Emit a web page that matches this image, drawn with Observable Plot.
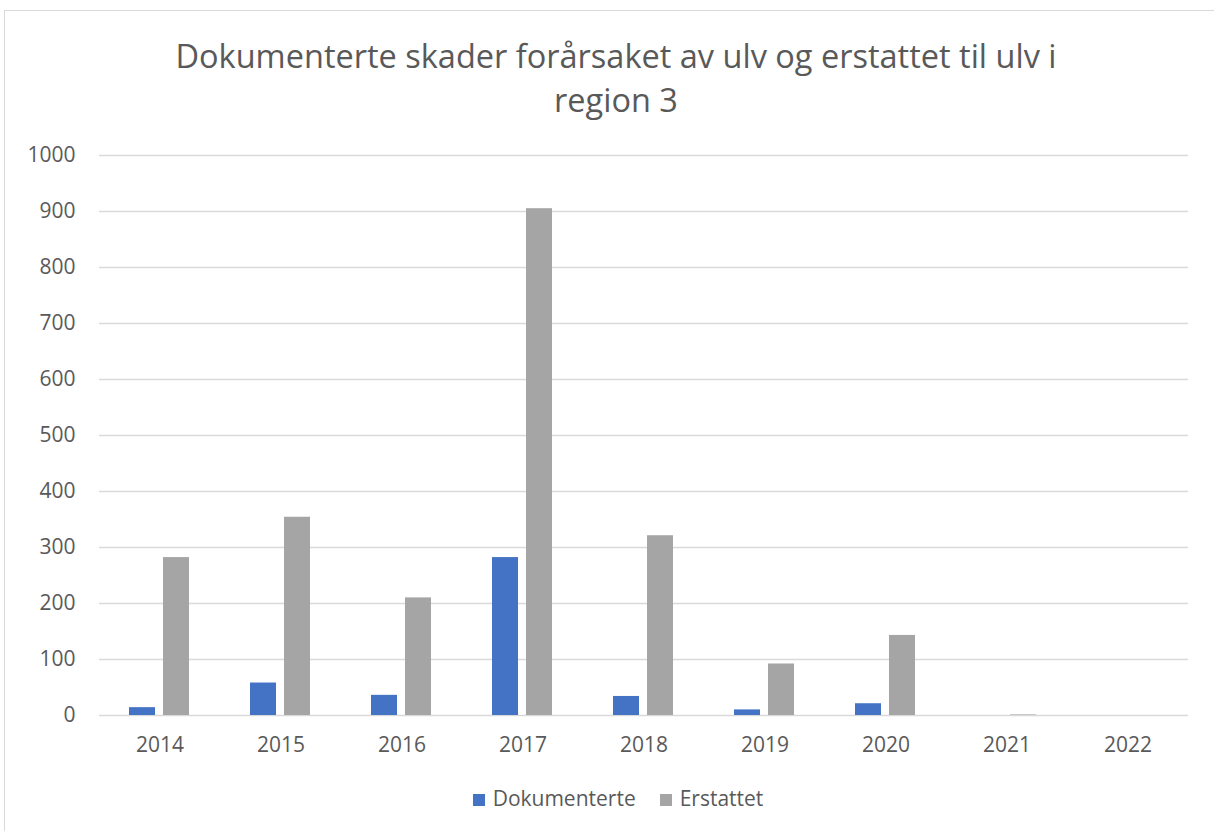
<!DOCTYPE html>
<html>
<head>
<meta charset="utf-8">
<script src="https://cdn.jsdelivr.net/npm/d3@7"></script>
<script src="https://cdn.jsdelivr.net/npm/@observablehq/plot@0.6"></script>
<style>
  html, body { margin: 0; padding: 0; background: #fff; }
  #wrap { position: relative; width: 1214px; height: 831px; overflow: hidden; font-family: "Open Sans", sans-serif; }
  #border { position: absolute; left: 4px; top: 10px; width: 1300px; height: 900px; border-left: 1.5px solid #d9d9d9; border-top: 1.5px solid #d9d9d9; }
  #title { position: absolute; left: 0; width: 1232px; top: 34px; text-align: center; font-size: 32.5px; line-height: 44px; color: #595959; font-weight: 400; }
  #chart { position: absolute; left: 0; top: 130px; }
  #legend { position: absolute; left: 0; width: 1236px; top: 786px; text-align: center; font-size: 21px; color: #595959; line-height: 24px; }
  .sw { display: inline-block; width: 12px; height: 12px; margin-right: 8px; vertical-align: 0px; }
  .item { display: inline-block; margin: 0 12px; }
</style>
</head>
<body>
<div id="wrap">
  <div id="border"></div>
  <div id="title"></div>
  <div id="chart"></div>
  <div id="legend"></div>
</div>
<script>
const titleLines = ["Dokumenterte skader forårsaket av ulv og erstattet til ulv i", "region 3"];
const years = ["2014", "2015", "2016", "2017", "2018", "2019", "2020", "2021", "2022"];
const seriesNames = ["Dokumenterte", "Erstattet"];
const dokumenterte = [14, 58, 36, 282, 34, 10, 21, 0, 0];
const erstattet = [282, 354, 210, 905, 321, 92, 143, 1, 0];
const colors = ["#4472C4", "#A5A5A5"];
const yTicks = [0, 100, 200, 300, 400, 500, 600, 700, 800, 900, 1000];

document.getElementById("title").innerHTML = titleLines.join("<br>");

const data = [];
years.forEach((y, i) => {
  data.push({year: y, series: seriesNames[0], value: dokumenterte[i]});
  data.push({year: y, series: seriesNames[1], value: erstattet[i]});
});

const chart = Plot.plot({
  width: 1214,
  height: 650,
  marginLeft: 97,
  marginRight: 25,
  marginTop: 25,
  marginBottom: 65,
  style: {fontFamily: "Open Sans, sans-serif", fontSize: "21px", color: "#595959", background: "transparent"},
  fx: {domain: years, padding: 0, axis: "bottom", tickSize: 0, tickPadding: 22, label: null},
  x: {domain: seriesNames, paddingInner: 0.2286, paddingOuter: 0.843, axis: null},
  y: {domain: [0, 1000], ticks: yTicks, tickFormat: d => String(d), tickSize: 0, tickPadding: 24, label: null, grid: false},
  color: {domain: seriesNames, range: colors},
  marks: [
    Plot.ruleY(yTicks, {stroke: "#d9d9d9", strokeWidth: 1.5}),
    Plot.barY(data, {fx: "year", x: "series", y: "value", fill: "series"})
  ]
});
document.getElementById("chart").appendChild(chart);

const legend = document.getElementById("legend");
seriesNames.forEach((s, i) => {
  const item = document.createElement("span");
  item.className = "item";
  item.innerHTML = `<span class="sw" style="background:${colors[i]}"></span>${s}`;
  legend.appendChild(item);
});
</script>
</body>
</html>
